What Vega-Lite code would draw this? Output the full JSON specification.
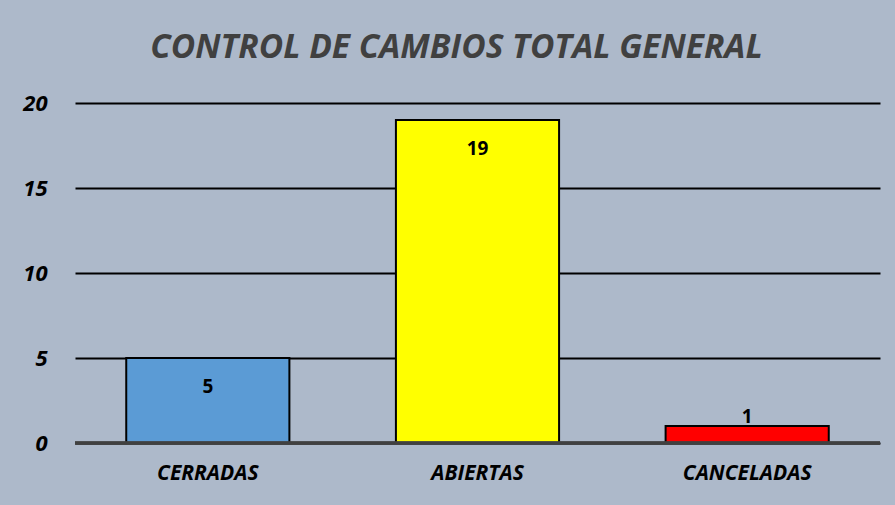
{
  "$schema": "https://vega.github.io/schema/vega-lite/v6.json",
  "width": 805,
  "height": 340,
  "autosize": "none",
  "padding": {"left": 75, "top": 103, "right": 15, "bottom": 62},
  "background": "#ADB9CA",
  "title": {
    "text": "CONTROL DE CAMBIOS TOTAL GENERAL",
    "font": "Open Sans",
    "fontSize": 33.5,
    "fontWeight": "bold",
    "fontStyle": "italic",
    "color": "#404040",
    "anchor": "middle",
    "offset": 27,
    "dx": -21
  },
  "config": {
    "view": {"stroke": null},
    "axis": {"labelFont": "Open Sans", "labelFontWeight": "bold", "labelFontStyle": "italic", "labelColor": "#000000"}
  },
  "data": {
    "values": [
      {"estado": "CERRADAS", "cantidad": 5},
      {"estado": "ABIERTAS", "cantidad": 19},
      {"estado": "CANCELADAS", "cantidad": 1}
    ]
  },
  "encoding": {
    "x": {
      "field": "estado",
      "type": "nominal",
      "sort": null,
      "scale": {"paddingInner": 0.395, "paddingOuter": 0.19},
      "axis": {
        "title": null,
        "labelAngle": 0,
        "labelFontSize": 21,
        "labelPadding": 19,
        "ticks": false,
        "domain": false
      }
    },
    "y": {
      "field": "cantidad",
      "type": "quantitative",
      "scale": {"domain": [0, 20]},
      "axis": {
        "title": null,
        "values": [0, 5, 10, 15, 20],
        "labelFontSize": 22,
        "labelPadding": 28,
        "ticks": false,
        "domain": false,
        "grid": true,
        "gridColor": "#000000",
        "gridWidth": 2,
        "gridOpacity": 1
      }
    }
  },
  "layer": [
    {
      "mark": {"type": "bar", "stroke": "#000000", "strokeWidth": 2},
      "encoding": {
        "color": {
          "field": "estado",
          "type": "nominal",
          "scale": {"domain": ["CERRADAS", "ABIERTAS", "CANCELADAS"], "range": ["#5B9BD5", "#FFFF00", "#FF0000"]},
          "legend": null
        }
      }
    },
    {
      "mark": {"type": "rule", "color": "#404040", "strokeWidth": 3},
      "encoding": {"y": {"datum": 0}, "x": null}
    },
    {
      "transform": [{"filter": "datum.cantidad >= 3"}],
      "mark": {"type": "text", "font": "Open Sans", "fontWeight": "bold", "fontSize": 19, "color": "#000000", "baseline": "middle", "dy": 29},
      "encoding": {"text": {"field": "cantidad", "type": "quantitative"}}
    },
    {
      "transform": [{"filter": "datum.cantidad < 3"}],
      "mark": {"type": "text", "font": "Open Sans", "fontWeight": "bold", "fontSize": 19, "color": "#000000", "baseline": "middle", "dy": -9},
      "encoding": {"text": {"field": "cantidad", "type": "quantitative"}}
    }
  ]
}
